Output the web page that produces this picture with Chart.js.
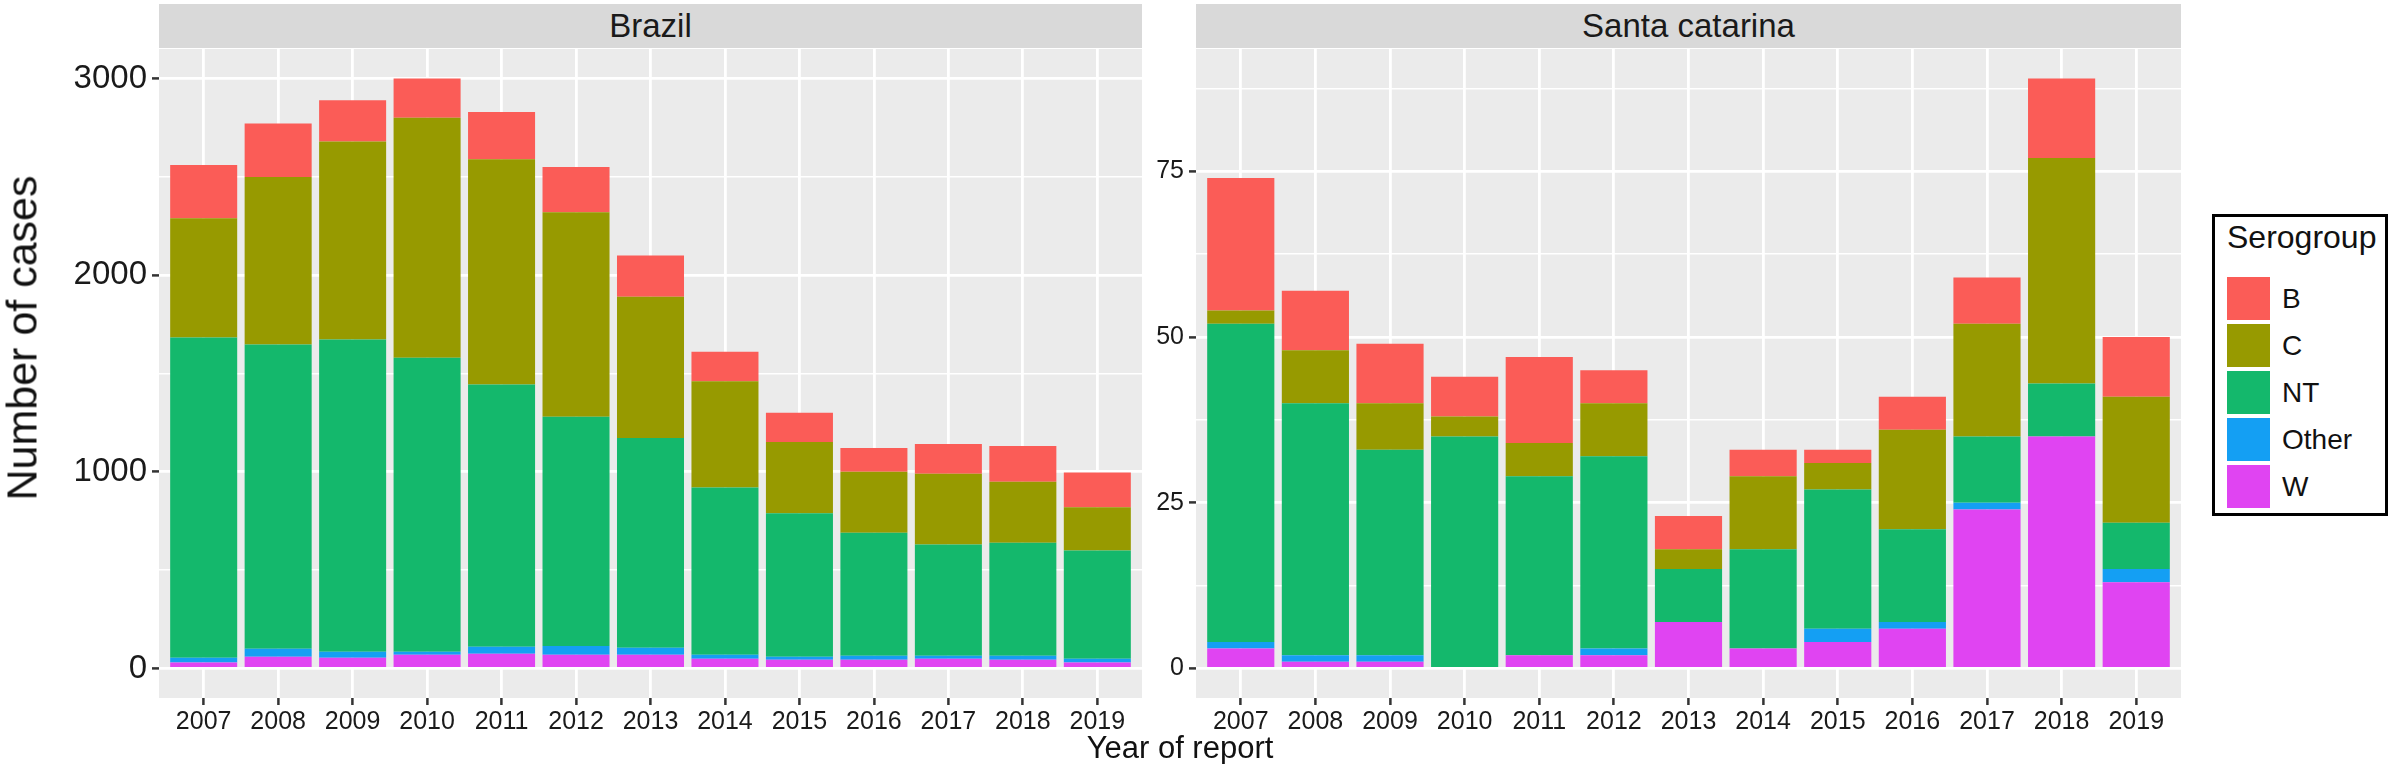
<!DOCTYPE html>
<html>
<head>
<meta charset="utf-8">
<title>Serogroup cases</title>
<script src="https://cdn.jsdelivr.net/npm/chart.js@4.4.1/dist/chart.umd.min.js"></script>
<style>
  body {
    margin: 0;
    width: 2390px;
    height: 764px;
    position: relative;
    overflow: hidden;
    background: #fff;
    font-family: "Liberation Sans", Arial, sans-serif;
    color: #111;
  }
  .abs { position: absolute; }
  .strip {
    top: 4px;
    height: 44px;
    line-height: 44px;
    background: #d9d9d9;
    text-align: center;
    font-size: 33px;
    color: #1a1a1a;
  }
  #ytitle {
    left: 22px;
    top: 338px;
    font-size: 43px;
    white-space: nowrap;
    transform: translate(-50%, -50%) rotate(-90deg);
  }
  #xtitle {
    left: 1180px;
    top: 748px;
    font-size: 31px;
    white-space: nowrap;
    transform: translate(-50%, -50%);
  }
  #legend {
    left: 2212px;
    top: 214px;
    width: 176px;
    height: 302px;
    box-sizing: border-box;
    border: 3px solid #000;
  }
  #legend .ltitle {
    position: absolute;
    left: 12px;
    top: 2px;
    font-size: 32px;
    line-height: 36px;
  }
  #legend .item {
    position: absolute;
    left: 12px;
    height: 43px;
  }
  #legend .key {
    position: absolute;
    left: 0;
    top: 0;
    width: 43px;
    height: 43px;
  }
  #legend .lab {
    position: absolute;
    left: 55px;
    top: 0;
    line-height: 43px;
    font-size: 28px;
    white-space: nowrap;
  }
</style>
</head>
<body>
<div class="abs strip" style="left:159px; width:983px;">Brazil</div>
<div class="abs strip" style="left:1196px; width:985px;">Santa catarina</div>
<canvas id="brazilChart" class="abs" width="1142" height="693" style="left:0; top:49px;"></canvas>
<canvas id="santaChart" class="abs" width="1035" height="693" style="left:1146px; top:49px;"></canvas>
<div id="ytitle" class="abs">Number of cases</div>
<div id="xtitle" class="abs">Year of report</div>
<div id="legend" class="abs"><div class="ltitle">Serogroup</div></div>

<script>
const years = ["2007", "2008", "2009", "2010", "2011", "2012", "2013", "2014", "2015", "2016", "2017", "2018", "2019"];

// serogroups, legend order
const groups = ["B", "C", "NT", "Other", "W"];
const groupColors = ["#fb5c57", "#979a00", "#14b86c", "#149ff3", "#e044f2"];

// Brazil
const brazilB = [271, 272, 210, 200, 240, 230, 210, 150, 148, 121, 151, 181, 177];
const brazilC = [606, 852, 1007, 1220, 1146, 1040, 718, 540, 362, 310, 360, 310, 220];
const brazilNT = [1628, 1547, 1588, 1495, 1334, 1165, 1067, 850, 730, 625, 565, 575, 550];
const brazilOther = [25, 40, 30, 15, 35, 45, 35, 20, 15, 20, 15, 20, 20];
const brazilW = [30, 60, 55, 70, 75, 70, 70, 50, 45, 45, 50, 45, 30];
const brazilTicks = [0, 500, 1000, 1500, 2000, 2500, 3000];
const brazilLabels = [0, 1000, 2000, 3000];

// Santa catarina
const santaB = [20, 9, 9, 6, 13, 5, 5, 4, 2, 5, 7, 12, 9];
const santaC = [2, 8, 7, 3, 5, 8, 3, 11, 4, 15, 17, 34, 19];
const santaNT = [48, 38, 31, 35, 27, 29, 8, 15, 21, 14, 10, 8, 7];
const santaOther = [1, 1, 1, 0, 0, 1, 0, 0, 2, 1, 1, 0, 2];
const santaW = [3, 1, 1, 0, 2, 2, 7, 3, 4, 6, 24, 35, 13];
const santaTicks = [0, 12.5, 25, 37.5, 50, 62.5, 75, 87.5];
const santaLabels = [0, 25, 50, 75];

Chart.defaults.font.family = '"Liberation Sans", Arial, sans-serif';
Chart.defaults.color = "#1a1a1a";

// grey panel behind the grid, like ggplot
const panelBg = {
  id: "panelBg",
  beforeDraw(chart) {
    const { ctx, chartArea: a } = chart;
    ctx.save();
    ctx.fillStyle = "#ebebeb";
    ctx.fillRect(a.left, a.top, a.right - a.left, a.bottom - a.top);
    ctx.restore();
  },
};

function toPoints(values) {
  return values.map((v, i) => ({ x: i, y: v }));
}

function isYear(v) {
  return Number.isInteger(v) && v >= 0 && v < years.length;
}

// stacked bottom to top: W, Other, NT, C, B
function makeDatasets(series) {
  const order = [4, 3, 2, 1, 0];
  return order.map((g) => ({
    label: groups[g],
    data: toPoints(series[g]),
    backgroundColor: groupColors[g],
    stack: "all",
    categoryPercentage: 0.9,
    barPercentage: 1,
    borderWidth: 0,
  }));
}

function makeChart(id, series, ticks, labels, yWidth, yFont) {
  const totals = years.map((_, i) => series.reduce((s, arr) => s + arr[i], 0));
  const top = Math.max(...totals);
  const pad = top * 0.05;

  return new Chart(document.getElementById(id), {
    type: "bar",
    data: { datasets: makeDatasets(series) },
    plugins: [panelBg],
    options: {
      responsive: false,
      animation: false,
      devicePixelRatio: 1,
      layout: { padding: 0 },
      plugins: { legend: { display: false }, tooltip: { enabled: false } },
      scales: {
        x: {
          type: "linear",
          offset: false,
          min: -0.6,
          max: years.length - 1 + 0.6,
          afterBuildTicks: (s) => {
            s.ticks = years.map((_, i) => ({ value: i }));
          },
          afterFit: (s) => {
            s.height = 44;
            s.paddingLeft = 0;
            s.paddingRight = 0;
          },
          ticks: {
            callback: (v) => (isYear(v) ? years[v] : ""),
            font: { size: 25 },
            padding: 2,
            maxRotation: 0,
            autoSkip: false,
          },
          grid: {
            offset: false,
            color: "#ffffff",
            lineWidth: 2.8,
            tickColor: "#333333",
            tickLength: 7,
            tickWidth: 2.5,
          },
          border: { display: false },
        },
        y: {
          stacked: true,
          min: -pad,
          max: top + pad,
          afterBuildTicks: (s) => {
            s.ticks = ticks.map((v) => ({ value: v }));
          },
          afterFit: (s) => {
            s.width = yWidth;
            s.paddingTop = 0;
            s.paddingBottom = 0;
          },
          ticks: {
            callback: (v) => (labels.includes(v) ? String(v) : ""),
            font: { size: yFont },
            padding: 5,
          },
          grid: {
            color: "#ffffff",
            lineWidth: (c) => (c.tick && labels.includes(c.tick.value) ? 2.8 : 1.4),
            tickColor: (c) => (c.tick && labels.includes(c.tick.value) ? "#333333" : "rgba(0,0,0,0)"),
            tickLength: 7,
            tickWidth: 2.5,
          },
          border: { display: false },
        },
      },
    },
  });
}

// legend
function buildLegend() {
  const box = document.getElementById("legend");
  groups.forEach((g, i) => {
    const item = document.createElement("div");
    item.className = "item";
    item.style.top = 60 + i * 47 + "px";
    item.innerHTML = `<div class="key" style="background:${groupColors[i]}"></div><div class="lab">${g}</div>`;
    box.appendChild(item);
  });
}

makeChart("brazilChart", [brazilB, brazilC, brazilNT, brazilOther, brazilW], brazilTicks, brazilLabels, 159, 33);
makeChart("santaChart", [santaB, santaC, santaNT, santaOther, santaW], santaTicks, santaLabels, 50, 25);
buildLegend();
</script>
</body>
</html>
